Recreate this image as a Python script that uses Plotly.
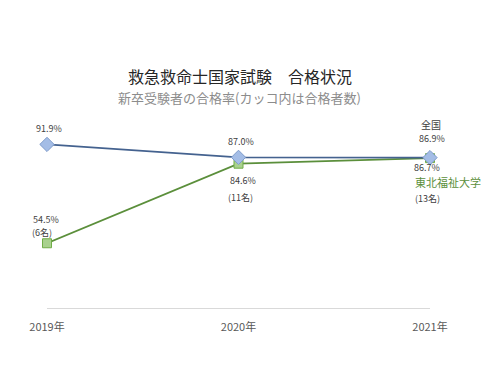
import plotly.graph_objects as go

years = ["2019年", "2020年", "2021年"]
national = [91.9, 87.0, 86.9]
univ = [54.5, 84.6, 86.7]
univ_counts = ["(6名)", "(11名)", "(13名)"]

FONT = "Noto Sans CJK JP"
xs = [0, 1, 2]

fig = go.Figure()
fig.add_trace(go.Scatter(
    x=xs, y=univ, mode="lines+markers", name="東北福祉大学",
    line=dict(color="#5B8F3B", width=1.8),
    marker=dict(symbol="square", size=9, color="#A9D18E", line=dict(color="#70AD47", width=1)),
    cliponaxis=False))
fig.add_trace(go.Scatter(
    x=xs, y=national, mode="lines+markers", name="全国",
    line=dict(color="#44628F", width=1.8),
    marker=dict(symbol="diamond", size=11, color="#A4BDE6", line=dict(color="#7F9CCB", width=1)),
    cliponaxis=False))

lab = dict(size=9, color="#404040", family=FONT)
ann = []
# national labels
ann.append(dict(x=xs[0], y=national[0], text=f"{national[0]:.1f}%", yshift=16, xshift=2))
ann.append(dict(x=xs[1], y=national[1], text=f"{national[1]:.1f}%", yshift=16, xshift=2))
ann.append(dict(x=xs[2], y=national[2], text=f"{national[2]:.1f}%", yshift=19, xshift=2))
ann.append(dict(x=xs[2], y=national[2], text="全国", yshift=33, xshift=1, font=dict(size=10, color="#404040", family=FONT)))
# univ labels
ann.append(dict(x=xs[0], y=univ[0], text=f"{univ[0]:.1f}%", yshift=24, xshift=-1))
ann.append(dict(x=xs[0], y=univ[0], text=univ_counts[0], yshift=11, xshift=-5))
ann.append(dict(x=xs[1], y=univ[1], text=f"{univ[1]:.1f}%", yshift=-17, xshift=4))
ann.append(dict(x=xs[1], y=univ[1], text=univ_counts[1], yshift=-34, xshift=2))
ann.append(dict(x=xs[2], y=univ[2], text=f"{univ[2]:.1f}%", yshift=-9, xshift=-3))
ann.append(dict(x=xs[2], y=univ[2], text="東北福祉大学", yshift=-24, xshift=18,
                font=dict(size=11, color="#5B8F3B", family=FONT)))
ann.append(dict(x=xs[2], y=univ[2], text=univ_counts[2], yshift=-40, xshift=-3))
for a in ann:
    a.setdefault("font", lab)
    a.update(xref="x", yref="y", showarrow=False)

fig.update_layout(
    width=500, height=375,
    paper_bgcolor="white", plot_bgcolor="white",
    showlegend=False,
    margin=dict(l=39, r=78, t=115, b=75),
    font=dict(family=FONT, color="#595959"),
    annotations=ann + [
        dict(xref="paper", yref="paper", x=0.5, y=1, yanchor="bottom", yshift=33, xshift=1,
             text="救急救命士国家試験　合格状況", showarrow=False,
             font=dict(size=16, color="#262626", family=FONT)),
        dict(xref="paper", yref="paper", x=0.5, y=1, yanchor="bottom", yshift=14, xshift=1,
             text="新卒受験者の合格率(カッコ内は合格者数)", showarrow=False,
             font=dict(size=13, color="#8C8C8C", family=FONT)),
    ],
    xaxis=dict(range=[0, 2], tickvals=xs, ticktext=years, showgrid=False, zeroline=False,
               showline=True, linecolor="#D9D9D9", linewidth=1, ticks="",
               tickfont=dict(size=11, color="#595959", family=FONT), ticklabelstandoff=9),
    yaxis=dict(range=[30, 100], visible=False, showgrid=False, zeroline=False),
)

fig.write_html("out.html")
